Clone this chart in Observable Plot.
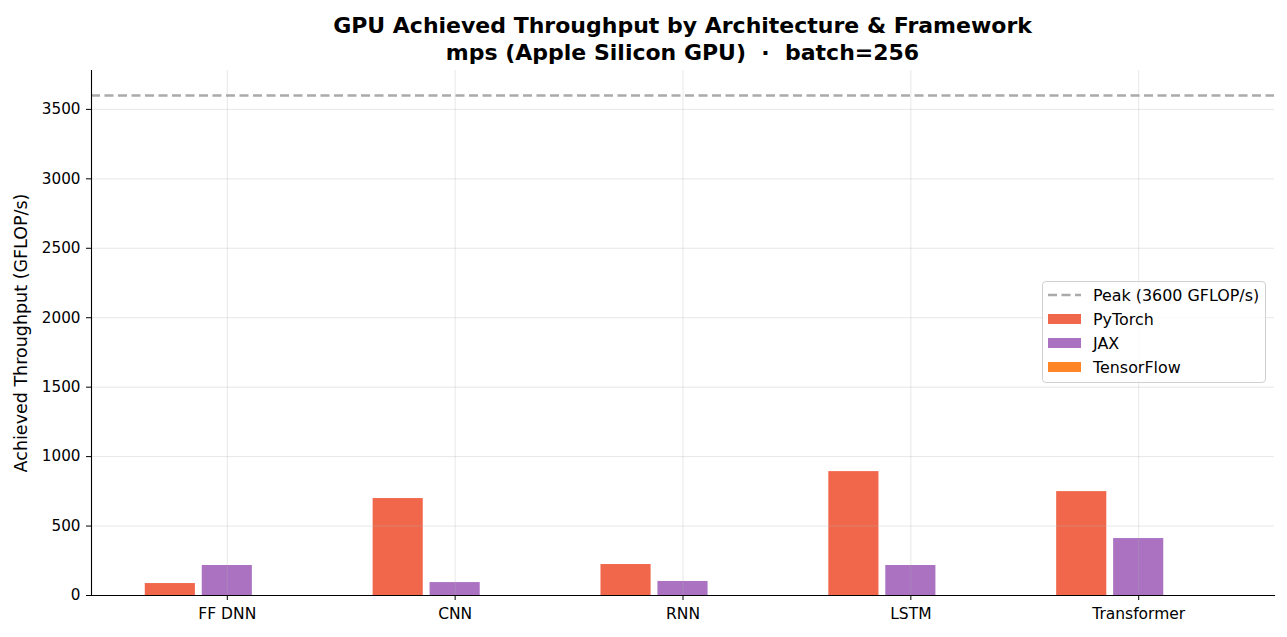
<!DOCTYPE html>
<html>
<head>
<meta charset="utf-8">
<script src="https://cdn.jsdelivr.net/npm/d3@7"></script>
<script src="https://cdn.jsdelivr.net/npm/@observablehq/plot@0.6"></script>
<style>
  html, body { margin: 0; padding: 0; background: #fff; }
  body { width: 1287px; height: 637px; position: relative; overflow: hidden; font-family: "DejaVu Sans", sans-serif; color: #000; }
  #title { box-sizing: border-box; height: 64px; padding: 12px 13px 0 91px; text-align: center; font-weight: bold; font-size: 22px; line-height: 27px; }
  #legend { position: absolute; left: 1042px; top: 281px; width: 222px; height: 100px; border: 1px solid #d0d0d0; border-radius: 4px; background: rgba(255,255,255,0.8); font-size: 15.9px; }
  .row { position: absolute; left: 0; height: 24px; display: flex; align-items: center; }
  .sw { width: 33px; height: 10px; margin-left: 5px; margin-right: 12px; }
</style>
</head>
<body>
<div id="title"></div>
<div id="chart"></div>
<div id="legend"></div>
<script>
// ---- data ----
const titleLines = ["GPU Achieved Throughput by Architecture & Framework", "mps (Apple Silicon GPU)  \u00b7  batch=256"];
const architectures = ["FF DNN", "CNN", "RNN", "LSTM", "Transformer"];
const frameworks = ["PyTorch", "JAX", "TensorFlow"];
const pytorch = [86, 698, 223, 892, 748];
const jax = [216, 93, 101, 216, 410];
const tensorflow = [null, null, null, null, null];
const peak = 3600;
const yTicks = [0, 500, 1000, 1500, 2000, 2500, 3000, 3500];
const yLabel = "Achieved Throughput (GFLOP/s)";
const peakLabel = "Peak (3600 GFLOP/s)";
const colors = ["#F1674C", "#AA72C1", "#FF8526"];

// ---- build ----
const series = [pytorch, jax, tensorflow];
const barW = 0.22, step = 0.25;
const rows = [];
architectures.forEach((a, i) => {
  frameworks.forEach((f, j) => {
    const v = series[j][i];
    if (v != null) rows.push({arch: a, fw: f, c: i + (j - 1) * step, value: v});
  });
});

document.getElementById("title").innerHTML = titleLines.map(t => `<div style="white-space:pre">${t}</div>`).join("");

const xs = architectures.map((_, i) => i);
const chart = Plot.plot({
  width: 1287,
  height: 573,
  marginTop: 6,
  marginBottom: 42,
  marginLeft: 91,
  marginRight: 13,
  style: {fontFamily: "DejaVu Sans", fontSize: "15.5px", color: "#000", background: "#fff"},
  x: {type: "linear", domain: [-0.596, 4.596]},
  y: {domain: [0, 3780]},
  color: {domain: frameworks, range: colors},
  marks: [
    Plot.rectY(rows, {x1: d => d.c - barW / 2, x2: d => d.c + barW / 2, y1: 0, y2: "value", fill: "fw"}),
    Plot.gridY(yTicks, {stroke: "#b0b0b0", strokeOpacity: 0.3, strokeWidth: 1}),
    Plot.gridX(xs, {stroke: "#b0b0b0", strokeOpacity: 0.3, strokeWidth: 1}),
    Plot.ruleY([peak], {stroke: "#aaaaaa", strokeWidth: 2.5, strokeDasharray: "9,4.5"}),
    Plot.axisY(yTicks, {tickSize: 5, tickPadding: 6, label: null, fontSize: 15.2, tickFormat: d3.format("d")}),
    Plot.axisX(xs, {tickSize: 5, tickPadding: 7, label: null, fontSize: 15.5, tickFormat: i => architectures[i]}),
    Plot.frame({anchor: "left", stroke: "#000", strokeWidth: 1.1}),
    Plot.frame({anchor: "bottom", stroke: "#000", strokeWidth: 1.1}),
    Plot.text([yLabel], {frameAnchor: "left", textAnchor: "middle", rotate: -90, dx: -70, fontSize: 17.5, fill: "#000"})
  ]
});
document.getElementById("chart").appendChild(chart);

// ---- legend ----
const leg = document.getElementById("legend");
const items = [{label: peakLabel, type: "line"}].concat(frameworks.map((f, j) => ({label: f, type: "patch", color: colors[j]})));
items.forEach((it, k) => {
  const r = document.createElement("div");
  r.className = "row";
  r.style.top = (1 + k * 24) + "px";
  const sw = it.type === "line"
    ? `<svg class="sw" width="33" height="10" style="height:10px"><line x1="0" x2="33" y1="5" y2="5" stroke="#aaaaaa" stroke-width="2.5" stroke-dasharray="9,4.5"/></svg>`
    : `<div class="sw" style="background:${it.color}"></div>`;
  r.innerHTML = sw + `<span>${it.label}</span>`;
  leg.appendChild(r);
});
</script>
</body>
</html>
